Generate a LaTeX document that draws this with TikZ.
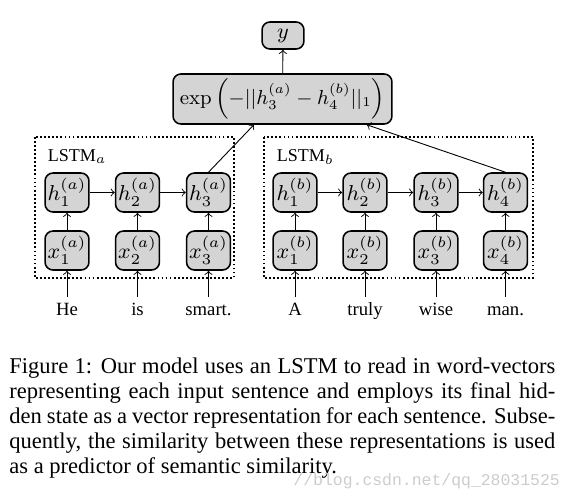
\documentclass[tikz,border=0pt]{standalone}
\usepackage{fix-cm}
\usepackage[no-math]{fontspec}
\setmainfont{Liberation Serif}
\setmonofont{Liberation Mono}
\tolerance=9999
\begin{document}
\begin{tikzpicture}[
			x=0.444pt, y=-0.444pt,
			cell/.style={draw, line width=0.7pt, rounded corners=3.5pt, fill=black!17,
					minimum width=19.5pt, minimum height=17.3pt, inner sep=0.5pt,
					font=\fontsize{9.6}{11}\selectfont},
			word/.style={anchor=base, inner sep=2pt, text height=6pt, text depth=1.5pt,
					font=\fontsize{8.3}{9}\selectfont},
			lstm/.style={anchor=base west, inner sep=0pt, font=\fontsize{8}{9}\selectfont},
			frame/.style={densely dotted, line width=0.8pt},
			link/.style={->, thin}
		]
		\useasboundingbox (0,0) rectangle (575,499);

		\node[cell, minimum width=18.6pt, minimum height=12pt] (y) at (283,35.5) {$y$};
		\node[cell, minimum width=97.2pt, minimum height=22.2pt,
			font=\fontsize{9}{11}\selectfont] (dist) at (282.5,99)
		{$\exp\left(-||h_3^{(a)}-h_4^{(b)}||_1\right)$};

		\draw[frame] (35,137) rectangle (234,278);
		\draw[frame] (264,137) rectangle (533,278);
		\node[lstm] (lbla) at (47.5,161) {LSTM$_a$};
		\node[lstm] (lblb) at (276.5,161) {LSTM$_b$};

		\node[cell] (h1a) at (67,192.5) {$h_1^{(a)}$};
		\node[cell] (h2a) at (137.5,192.5) {$h_2^{(a)}$};
		\node[cell] (h3a) at (208.5,192.5) {$h_3^{(a)}$};
		\node[cell] (x1a) at (67,250.5) {$x_1^{(a)}$};
		\node[cell] (x2a) at (137.5,250.5) {$x_2^{(a)}$};
		\node[cell] (x3a) at (208.5,250.5) {$x_3^{(a)}$};

		\node[cell] (h1b) at (295,192.5) {$h_1^{(b)}$};
		\node[cell] (h2b) at (365,192.5) {$h_2^{(b)}$};
		\node[cell] (h3b) at (436,192.5) {$h_3^{(b)}$};
		\node[cell] (h4b) at (505.5,192.5) {$h_4^{(b)}$};
		\node[cell] (x1b) at (295,250.5) {$x_1^{(b)}$};
		\node[cell] (x2b) at (365,250.5) {$x_2^{(b)}$};
		\node[cell] (x3b) at (436,250.5) {$x_3^{(b)}$};
		\node[cell] (x4b) at (505.5,250.5) {$x_4^{(b)}$};

		\node[word] (w1) at (67,315) {He};
		\node[word] (w2) at (137.5,315) {is};
		\node[word] (w3) at (208.5,315) {smart.};
		\node[word] (w4) at (295,315) {A};
		\node[word] (w5) at (365,315) {truly};
		\node[word] (w6) at (436,315) {wise};
		\node[word] (w7) at (505.5,315) {man.};

		\draw[link] (w1) -- (x1a);
		\draw[link] (w2) -- (x2a);
		\draw[link] (w3) -- (x3a);
		\draw[link] (w4) -- (x1b);
		\draw[link] (w5) -- (x2b);
		\draw[link] (w6) -- (x3b);
		\draw[link] (w7) -- (x4b);

		\draw[link] (x1a) -- (h1a);
		\draw[link] (x2a) -- (h2a);
		\draw[link] (x3a) -- (h3a);
		\draw[link] (x1b) -- (h1b);
		\draw[link] (x2b) -- (h2b);
		\draw[link] (x3b) -- (h3b);
		\draw[link] (x4b) -- (h4b);

		\draw[link] (h1a) -- (h2a);
		\draw[link] (h2a) -- (h3a);
		\draw[link] (h1b) -- (h2b);
		\draw[link] (h2b) -- (h3b);
		\draw[link] (h3b) -- (h4b);

		\draw[link] (h3a.north) -- (dist.222);
		\draw[link] (h4b.north) -- (dist.343);
		\draw[link] (dist) -- (y);

		\node[anchor=base west, inner sep=0pt, text width=242.4pt, align=justify,
			font=\fontsize{10}{11.1}\selectfont] (caption) at (9,373)
		{Figure 1: Our model uses an LSTM to read in word-vectors\linebreak
			representing each input sentence and employs its final hid-\linebreak
			den state as a vector representation for each sentence. Subse-\linebreak
			quently, the similarity between these representations is used\linebreak
			as a predictor of semantic similarity.};
		\node[anchor=base west, inner sep=0pt, text=black!20,
			font=\ttfamily\fontsize{7.3}{8}\selectfont] (mark) at (293,485)
		{//blog.csdn.net/qq\_28031525};
	\end{tikzpicture}
\end{document}
